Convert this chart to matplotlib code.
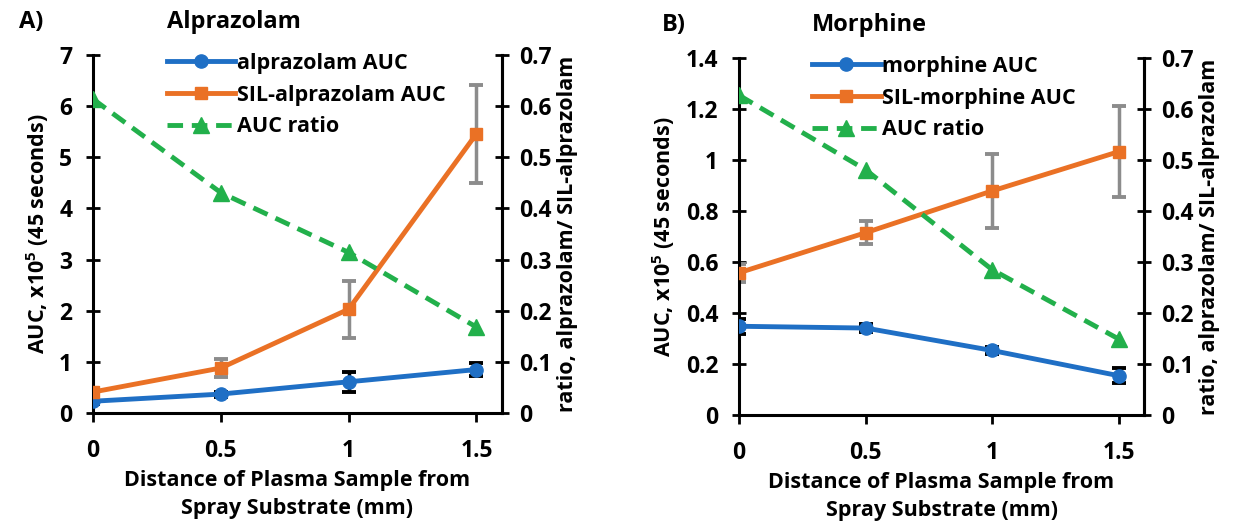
import numpy as np
import matplotlib.pyplot as plt

plt.rcParams['font.family'] = ['Open Sans', 'DejaVu Sans']
plt.rcParams['font.weight'] = 'bold'
plt.rcParams['mathtext.fontset'] = 'custom'
plt.rcParams['mathtext.bf'] = 'Open Sans:bold'
plt.rcParams['mathtext.rm'] = 'Open Sans:bold'

distance = [0, 0.5, 1, 1.5]

# alprazolam panel
alp_auc = [0.23, 0.37, 0.61, 0.85]
alp_auc_err = [0.05, 0.05, 0.19, 0.12]
alp_sil = [0.41, 0.88, 2.03, 5.46]
alp_sil_err = [0.08, 0.18, 0.56, 0.96]
alp_ratio = [0.614, 0.431, 0.314, 0.168]

# morphine panel
mor_auc = [0.348, 0.341, 0.253, 0.154]
mor_auc_err = [0.03, 0.015, 0.015, 0.03]
mor_sil = [0.558, 0.715, 0.879, 1.033]
mor_sil_err = [0.035, 0.045, 0.145, 0.178]
mor_ratio = [0.627, 0.481, 0.285, 0.149]

blue = '#1f6fc5'
orange = '#ea7125'
green = '#22b04b'
gray = '#8c8c8c'
fs = 15.5
tfs = 16.5


def panel(ax, auc, auc_err, sil, sil_err, ratio, ymax, ystep, names, letter, title, lx):
    ax.errorbar(distance, auc, yerr=auc_err, fmt='none', ecolor='black',
                elinewidth=2.5, capsize=5, capthick=2.8, zorder=2)
    ax.errorbar(distance, sil, yerr=sil_err, fmt='none', ecolor=gray,
                elinewidth=2.5, capsize=5, capthick=2.8, zorder=2)
    l1, = ax.plot(distance, auc, color=blue, lw=3.5, marker='o', ms=9.5, zorder=3)
    l2, = ax.plot(distance, sil, color=orange, lw=3.5, marker='s', ms=9, zorder=3)
    ax.set_xlim(0, 1.6)
    ax.set_ylim(0, ymax)
    ax.set_xticks([0, 0.5, 1, 1.5])
    ax.set_xticklabels(['0', '0.5', '1', '1.5'])
    yt = np.arange(0, ymax + ystep / 2, ystep)
    ax.set_yticks(yt)
    ax.set_yticklabels(['%g' % round(v, 2) for v in yt])
    ax.tick_params(axis='x', direction='out', length=6.5, width=2, pad=12, labelsize=tfs)
    ax.tick_params(axis='y', direction='inout', length=10, width=2, pad=10, labelsize=tfs)
    ax.spines['top'].set_visible(False)
    for s in ['left', 'bottom', 'right']:
        ax.spines[s].set_linewidth(2.2)
    ax.set_xlabel('Distance of Plasma Sample from\nSpray Substrate (mm)', fontsize=fs,
                  fontweight='bold', labelpad=5, linespacing=1.45)
    ax.set_ylabel('AUC, x10$^\\mathbf{5}$ (45 seconds)', fontsize=fs, fontweight='bold', labelpad=6)

    ax2 = ax.twinx()
    l3, = ax2.plot(distance, ratio, color=green, lw=3.5, ls=(0, (3.2, 1.8)), marker='^', ms=11)
    ax2.set_ylim(0, 0.7)
    ax2.set_yticks(np.arange(0, 0.75, 0.1))
    ax2.set_yticklabels(['0', '0.1', '0.2', '0.3', '0.4', '0.5', '0.6', '0.7'])
    ax2.tick_params(axis='y', direction='inout', length=10, width=2, pad=7, labelsize=tfs)
    ax2.spines['top'].set_visible(False)
    ax2.spines['right'].set_linewidth(2.2)
    ax2.spines['left'].set_visible(False)
    ax2.spines['bottom'].set_visible(False)
    ax2.set_ylabel('ratio, alprazolam/ SIL-alprazolam', fontsize=fs, fontweight='bold', labelpad=4)

    ax.legend([l1, l2, l3], names, loc='upper left', bbox_to_anchor=(0.18, 1.006),
              frameon=False, fontsize=fs, handlelength=3.2, handletextpad=0.05,
              labelspacing=0.5, borderpad=0, borderaxespad=0)
    ax.text(lx, 1.06, letter, transform=ax.transAxes, fontsize=17, fontweight='bold',
            va='bottom', ha='left')
    ax.text(0.18, 1.06, title, transform=ax.transAxes, fontsize=17, fontweight='bold',
            va='bottom', ha='left')


fig = plt.figure(figsize=(12.38, 5.21), dpi=100)
axA = fig.add_axes([0.0751, 0.2073, 0.3304, 0.687])
axB = fig.add_axes([0.597, 0.2035, 0.3271, 0.685])

panel(axA, alp_auc, alp_auc_err, alp_sil, alp_sil_err, alp_ratio, 7, 1,
      ['alprazolam AUC', 'SIL-alprazolam AUC', 'AUC ratio'], 'A)', 'Alprazolam', -0.18)
panel(axB, mor_auc, mor_auc_err, mor_sil, mor_sil_err, mor_ratio, 1.4, 0.2,
      ['morphine AUC', 'SIL-morphine AUC', 'AUC ratio'], 'B)', 'Morphine', -0.19)

fig.savefig('out.png', dpi=100)
